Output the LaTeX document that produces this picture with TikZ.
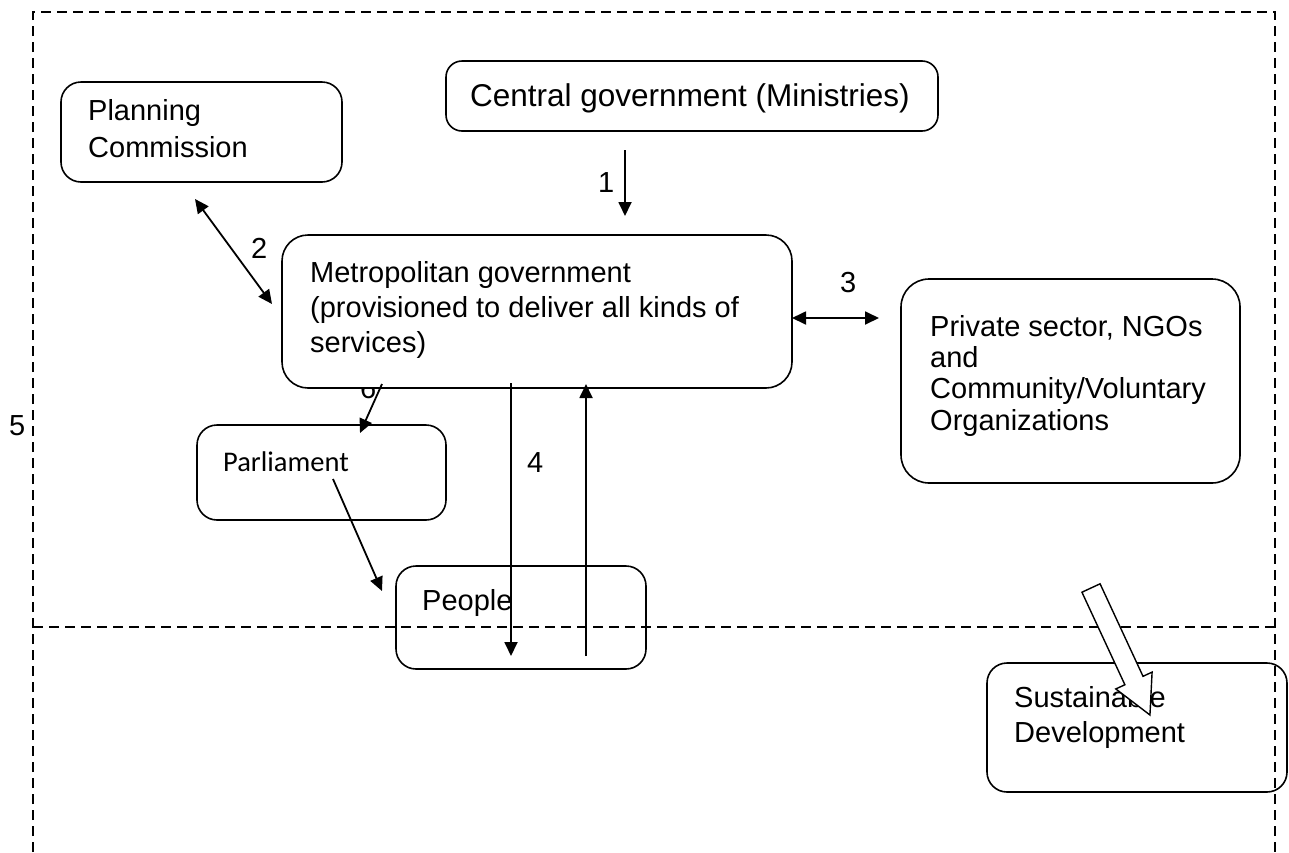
\documentclass[tikz,border=0pt]{standalone}
\usepackage{fontspec}
\setmainfont{Liberation Sans}
\newfontfamily\calibri{Carlito}
\usetikzlibrary{arrows.meta,calc}
\begin{document}
\begin{tikzpicture}[x=1pt,y=-1pt,
  box/.style={draw,line width=1.6pt,rounded corners=20pt,inner sep=0pt},
  lbl/.style={anchor=base west,inner sep=0pt,font=\fontsize{29}{35}\selectfont},
  dashline/.style={line width=1.6pt,dash pattern=on 10pt off 6pt},
  conn/.style={line width=1.8pt,-{Triangle[length=14pt,width=13pt]}},
  dconn/.style={line width=1.8pt,{Triangle[length=14pt,width=13pt]}-{Triangle[length=14pt,width=13pt]}}]
\useasboundingbox (0,0) rectangle (1289,852);
% dashed frame
\coordinate (fbl) at (33,852);
\coordinate (ftl) at (33,12);
\coordinate (ftr) at (1275,12);
\coordinate (fbr) at (1275,852);
\coordinate (ml) at (33,627);
\coordinate (mr) at (1275,627);
\draw[dashline] (fbl) -- (ftl) -- (ftr) -- (fbr);
\draw[dashline] (ml) -- (mr);
% hidden label 6
\node[lbl] (l6) at (360,398) {6};
% boxes
\node[box,minimum width=281pt,minimum height=100pt] (plan) at (201.5,132) {};
\node[box,minimum width=492pt,minimum height=70pt,rounded corners=16pt] (cent) at (692,96) {};
\node[box,fill=white,minimum width=510pt,minimum height=153pt,rounded corners=26pt] (metro) at (537,311.5) {};
\node[box,minimum width=339pt,minimum height=204pt,rounded corners=28pt] (priv) at (1070.5,381) {};
\node[box,minimum width=249pt,minimum height=95pt] (parl) at (321.5,472.5) {};
\node[box,minimum width=250pt,minimum height=103pt] (peop) at (521,617.5) {};
\node[box,minimum width=300pt,minimum height=129pt] (sust) at (1137,727.5) {};
% texts
\node[lbl] (tplan1) at (88,120) {Planning};
\node[lbl] (tplan2) at (88,157) {Commission};
\node[lbl,font=\fontsize{31.5}{36}\selectfont] (tcent) at (470,106) {Central government (Ministries)};
\node[lbl] (tm1) at (310,282) {Metropolitan government};
\node[lbl] (tm2) at (310,317) {(provisioned to deliver all kinds of};
\node[lbl] (tm3) at (310,352) {services)};
\node[lbl] (tp1) at (930,336) {Private sector, NGOs};
\node[lbl] (tp2) at (930,367) {and};
\node[lbl] (tp3) at (930,398) {Community/Voluntary};
\node[lbl] (tp4) at (930,430) {Organizations};
\node[lbl,font=\calibri\fontsize{28.5}{33}\selectfont] (tparl) at (223,471) {Parliament};
\node[lbl] (tpeop) at (422,610) {People};
\node[lbl] (ts1) at (1014,707) {Sustainable};
\node[lbl] (ts2) at (1014,742) {Development};
% labels
\node[lbl] (l1) at (598,192) {1};
\node[lbl] (l2) at (251,258) {2};
\node[lbl] (l3) at (840,292) {3};
\node[lbl] (l4) at (527,472) {4};
\node[lbl] (l5) at (9,435) {5};
% connector end points
\coordinate (a1s) at (625,150);
\coordinate (a1e) at (625,216);
\coordinate (a2s) at (195,199);
\coordinate (a2e) at (272,304);
\coordinate (a3s) at (792,318);
\coordinate (a3e) at (879,318);
\coordinate (a4s) at (511,383);
\coordinate (a4e) at (511,656);
\coordinate (a5s) at (586,656);
\coordinate (a5e) at (586,384);
\coordinate (a6s) at (382,384);
\coordinate (a6e) at (360,433);
\coordinate (a7s) at (333,479);
\coordinate (a7e) at (382,591);
\draw[conn] (a1s) -- (a1e);
\draw[dconn] (a2s) -- (a2e);
\draw[dconn] (a3s) -- (a3e);
\draw[conn] (a4s) -- (a4e);
\draw[conn] (a5s) -- (a5e);
\draw[conn] (a6s) -- (a6e);
\draw[conn] (a7s) -- (a7e);
% big hollow arrow
\begin{scope}[shift={(1091,588)},rotate=-65.1]
\draw[line width=1.4pt,fill=white] (0,-10) -- (102,-10) -- (102,-20) -- (140,0) -- (102,20) -- (102,10) -- (0,10) -- cycle;
\end{scope}
\end{tikzpicture}
\end{document}
